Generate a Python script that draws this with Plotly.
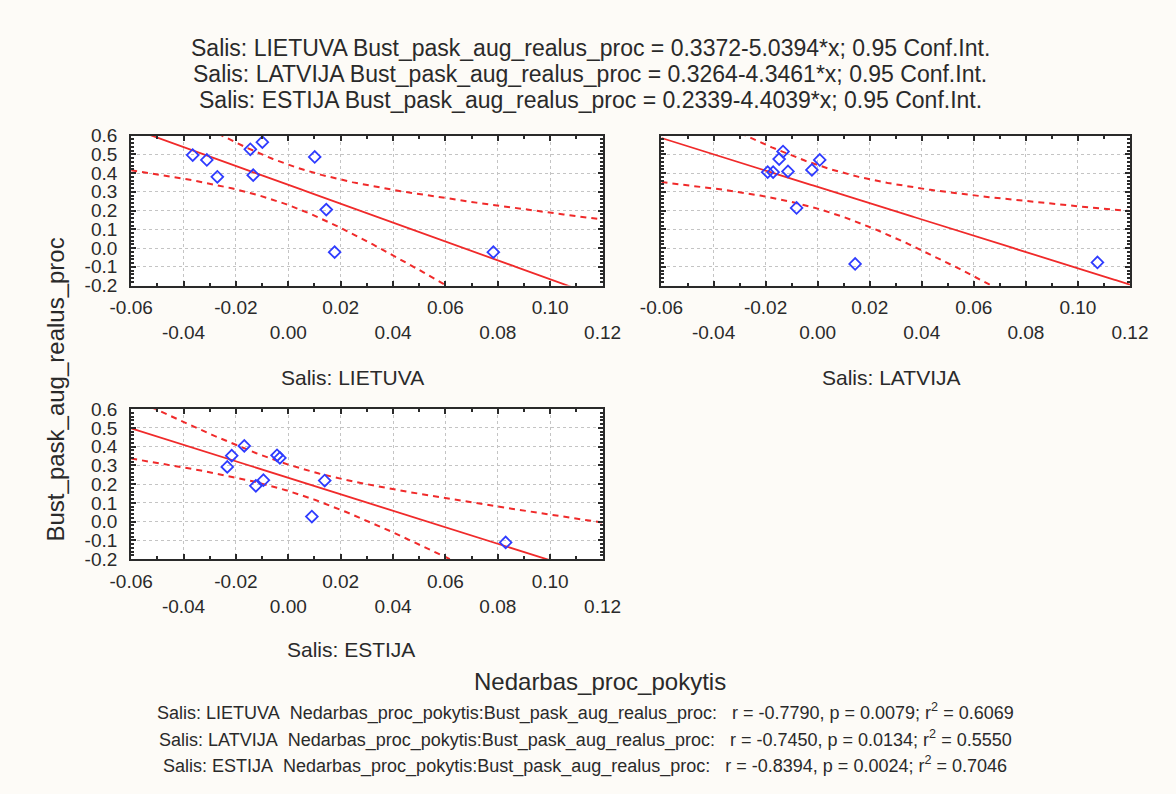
import numpy as np
import plotly.graph_objects as go

# ---- data: Nedarbas_proc_pokytis (x) vs Bust_pask_aug_realus_proc (y) ----
COUNTRIES = ["LIETUVA", "LATVIJA", "ESTIJA"]

LT_X = [-0.0365, -0.0311, -0.0271, -0.0145, -0.0099, -0.0134, 0.0101, 0.0145, 0.0177, 0.0783]
LT_Y = [0.496, 0.470, 0.380, 0.527, 0.565, 0.389, 0.486, 0.205, -0.022, -0.022]

LV_X = [-0.0192, -0.0171, -0.0148, -0.0133, -0.0114, -0.0081, -0.0022, 0.0008, 0.0144, 0.1075]
LV_Y = [0.405, 0.405, 0.475, 0.515, 0.409, 0.214, 0.417, 0.470, -0.085, -0.077]

EE_X = [-0.0168, -0.0216, -0.0233, -0.0124, -0.0095, -0.0043, -0.0032, 0.0139, 0.0090, 0.0830]
EE_Y = [0.404, 0.352, 0.292, 0.191, 0.221, 0.354, 0.340, 0.219, 0.027, -0.111]

INTERCEPTS = [0.3372, 0.3264, 0.2339]
SLOPES = [-5.0394, -4.3461, -4.4039]
R_VALUES = [-0.7790, -0.7450, -0.8394]
P_VALUES = [0.0079, 0.0134, 0.0024]
R2_VALUES = [0.6069, 0.5550, 0.7046]

X_TICKS = [-0.06, -0.04, -0.02, 0.00, 0.02, 0.04, 0.06, 0.08, 0.10, 0.12]
X_TICK_TEXT = ["-0.06", "-0.04", "-0.02", "0.00", "0.02", "0.04", "0.06", "0.08", "0.10", "0.12"]
Y_TICKS = [-0.2, -0.1, 0.0, 0.1, 0.2, 0.3, 0.4, 0.5, 0.6]
Y_TICK_TEXT = ["-0.2", "-0.1", "0.0", "0.1", "0.2", "0.3", "0.4", "0.5", "0.6"]

X_NAME = "Nedarbas_proc_pokytis"
Y_NAME = "Bust_pask_aug_realus_proc"

T_CRIT = 2.306  # Student t 0.975 quantile, 8 degrees of freedom

# ---- styling ----
W, H = 1176, 794
FONT = "Liberation Sans, Arial, sans-serif"
TEXT = "#2a2a2a"
RED = "#f02a2a"
BLUE = "#2f3cff"
FRAME = "#2a2a2a"
GRID = "#c4c4c4"
BG = "#fdfbf7"


def px_x(p):
    return p / W


def px_y(p):
    return 1 - p / H


def conf_band(x, y, a, b, xs):
    x = np.asarray(x, float)
    y = np.asarray(y, float)
    n = len(x)
    resid = y - (a + b * x)
    s = np.sqrt((resid ** 2).sum() / (n - 2))
    sxx = ((x - x.mean()) ** 2).sum()
    fit = a + b * xs
    half = T_CRIT * s * np.sqrt(1.0 / n + (xs - x.mean()) ** 2 / sxx)
    return fit, fit - half, fit + half


series = [(LT_X, LT_Y), (LV_X, LV_Y), (EE_X, EE_Y)]
# panel boxes in pixels: left, right, top, bottom
panels = [(113, 601, 129, 283), (662, 1147, 129, 283), (113, 601, 410, 564)]

xs = np.linspace(X_TICKS[0], X_TICKS[-1], 400)
fig = go.Figure()

for i, ((xv, yv), a, b) in enumerate(zip(series, INTERCEPTS, SLOPES)):
    sfx = "" if i == 0 else str(i + 1)
    fit, lo, hi = conf_band(xv, yv, a, b, xs)
    for band in (lo, hi):
        fig.add_trace(go.Scatter(
            x=xs, y=band, mode="lines", xaxis="x" + sfx, yaxis="y" + sfx,
            line=dict(color=RED, width=2, dash="6px,5px"), hoverinfo="skip"))
    fig.add_trace(go.Scatter(
        x=xs, y=fit, mode="lines", xaxis="x" + sfx, yaxis="y" + sfx,
        line=dict(color=RED, width=1.8), hoverinfo="skip"))
    fig.add_trace(go.Scatter(
        x=xv, y=yv, mode="markers", xaxis="x" + sfx, yaxis="y" + sfx,
        marker=dict(symbol="diamond-open", size=9, color=BLUE,
                    line=dict(color=BLUE, width=1.8))))

# staggered x tick labels: every second label drops to a second row
x_text = [t if k % 2 == 0 else "\u00a0<br>" + t for k, t in enumerate(X_TICK_TEXT)]

layout = dict(
    width=W, height=H, showlegend=False,
    margin=dict(l=0, r=0, t=0, b=0),
    paper_bgcolor=BG, plot_bgcolor="white",
    font=dict(family=FONT, color=TEXT, size=18),
)

for i, (l, r, t, bt) in enumerate(panels):
    sfx = "" if i == 0 else str(i + 1)
    xa = dict(
        domain=[px_x(l), px_x(r)], anchor="y" + sfx,
        range=[X_TICKS[0], X_TICKS[-1]],
        tickmode="array", tickvals=X_TICKS, ticktext=x_text,
        ticks="inside", ticklen=5, tickwidth=1.5, tickcolor=FRAME,
        showline=True, linewidth=2, linecolor=FRAME, mirror="allticks",
        showgrid=True, gridcolor=GRID, griddash="dot", gridwidth=1,
        zeroline=False, tickfont=dict(size=19, family=FONT, color=TEXT),
        ticklabelstandoff=4,
        minor=dict(tick0=-0.06, dtick=0.01, ticks="inside", ticklen=3,
                   tickcolor=FRAME, showgrid=False),
    )
    ya = dict(
        domain=[px_y(bt), px_y(t)], anchor="x" + sfx,
        range=[Y_TICKS[0], Y_TICKS[-1]],
        tickmode="array", tickvals=Y_TICKS, ticktext=Y_TICK_TEXT,
        showticklabels=(i != 1),
        ticks="inside", ticklen=5, tickwidth=1.5, tickcolor=FRAME,
        showline=True, linewidth=2, linecolor=FRAME, mirror="allticks",
        showgrid=True, gridcolor=GRID, griddash="dot", gridwidth=1,
        zeroline=False, tickfont=dict(size=19, family=FONT, color=TEXT),
        ticklabelstandoff=8,
        minor=dict(tick0=-0.2, dtick=0.02, ticks="inside", ticklen=3,
                   tickcolor=FRAME, showgrid=False),
    )
    layout["xaxis" + sfx] = xa
    layout["yaxis" + sfx] = ya

fig.update_layout(**layout)


def note(text, x, y, size, **kw):
    fig.add_annotation(text=text, x=px_x(x), y=px_y(y), xref="paper", yref="paper",
                       showarrow=False, xanchor=kw.pop("xanchor", "center"),
                       yanchor="middle", font=dict(family=FONT, size=size, color=TEXT), **kw)


# header equations
for k, (c, a, b) in enumerate(zip(COUNTRIES, INTERCEPTS, SLOPES)):
    note(f"Salis: {c} {Y_NAME} = {a:.4f}{b:.4f}*x; 0.95 Conf.Int.", 588, 39 + k * 26.5, 23)

# panel captions
note(f"Salis: {COUNTRIES[0]}", 342, 377, 21)
note(f"Salis: {COUNTRIES[1]}", 900, 377, 21)
note(f"Salis: {COUNTRIES[2]}", 341, 657, 21)

# axis titles
note(X_NAME, 598, 690, 24)
note(Y_NAME, 35, 390, 24, textangle=-90)

# correlation summary
nb = "\u00a0"
for k, c in enumerate(COUNTRIES):
    txt = (f"Salis: {c}{nb}{nb}{X_NAME}:{Y_NAME}:{nb}{nb}{nb}"
           f"r = {R_VALUES[k]:.4f}, p = {P_VALUES[k]:.4f}; r<sup>2</sup> = {R2_VALUES[k]:.4f}")
    note(txt, 583, 721 + k * 27.5, 18)

fig.write_html("out.html")
